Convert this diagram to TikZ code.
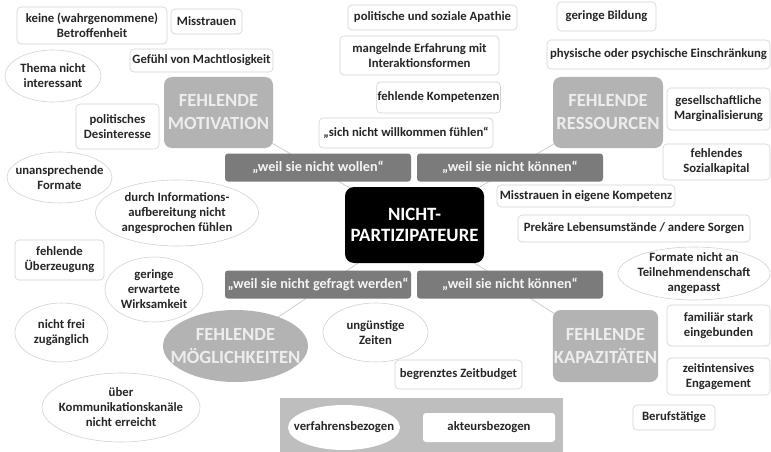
\documentclass[tikz,border=0pt]{standalone}
\usepackage{fontspec}
\setmainfont{Carlito}
\usetikzlibrary{shapes.geometric,backgrounds}
\definecolor{txt}{HTML}{262626}
\definecolor{bord}{HTML}{D2D2D2}
\definecolor{catfill}{HTML}{B3B3B3}
\definecolor{cattxt}{HTML}{EDEDED}
\definecolor{barfill}{HTML}{7B7B7B}
\definecolor{bartxt}{HTML}{F5F5F5}
\definecolor{legfill}{HTML}{BEBEBE}
\definecolor{connc}{HTML}{C8C8C8}
\tikzset{
  wbox/.style={draw=bord, line width=0.6pt, fill=white, rounded corners=4pt, align=center,
    font=\fontsize{12.7}{15}\selectfont\bfseries, text=txt, inner sep=1pt},
  well/.style={ellipse, draw=bord, line width=0.6pt, fill=white, align=center,
    font=\fontsize{12.7}{15}\selectfont\bfseries, text=txt, inner sep=-20pt},
  catbox/.style={fill=catfill, rounded corners=8pt, text=cattxt, align=center,
    font=\fontsize{18.6}{23}\selectfont\bfseries, inner sep=1pt},
  catell/.style={ellipse, fill=catfill, text=cattxt, align=center,
    font=\fontsize{18.6}{23}\selectfont\bfseries, inner sep=-20pt},
  barbox/.style={fill=barfill, rounded corners=3pt, text=bartxt,
    font=\fontsize{14.2}{16}\selectfont\bfseries, minimum width=186, minimum height=28, inner sep=1pt},
  hubbox/.style={fill=black, rounded corners=9pt, text=white, align=center,
    font=\fontsize{18.8}{21.5}\selectfont\bfseries, minimum width=139, minimum height=76, inner sep=1pt},
  conn/.style={draw=connc, line width=0.7pt}
}
\begin{document}
\begin{tikzpicture}[x=1pt,y=-1pt]
\useasboundingbox (0,0) rectangle (771,452);
% legend
\node[fill=legfill, minimum width=283, minimum height=54, inner sep=0pt] (leg) at (421.5,425) {};
\node[ellipse, fill=white, inner sep=-20pt, minimum width=112, minimum height=45,
  font=\fontsize{12.7}{15}\selectfont\bfseries, text=txt] (leg1) at (344,427.5) {verfahrensbezogen};
\node[fill=white, rounded corners=3pt, minimum width=132, minimum height=29, inner sep=1pt,
  font=\fontsize{12.7}{15}\selectfont\bfseries, text=txt] (leg2) at (489,427.5) {akteursbezogen};
% hub
\node[hubbox] (hub) at (414.5,225) {NICHT-\\PARTIZIPATEURE};
% categories
\node[catbox, minimum width=109, minimum height=71] (catM) at (218.5,112.5) {FEHLENDE\\MOTIVATION};
\node[catbox, minimum width=110, minimum height=71] (catR) at (608,112.5) {FEHLENDE\\RESSOURCEN};
\node[catell, minimum width=145, minimum height=72] (catO) at (235.5,346) {FEHLENDE\\MÖGLICHKEITEN};
\node[catbox, minimum width=105, minimum height=72] (catK) at (605.5,346) {FEHLENDE\\KAPAZITÄTEN};
% bars
\node[barbox] (bW) at (318,167.5) {„weil sie nicht wollen“};
\node[barbox] (bK1) at (510,167.5) {„weil sie nicht können“};
\node[barbox] (bG) at (318,284.5) {„weil sie nicht gefragt werden“};
\node[barbox] (bK2) at (510,284.5) {„weil sie nicht können“};
% motivation items
\node[wbox, minimum width=150, minimum height=37] (m1) at (92,25.5) {keine (wahrgenommene)\\Betroffenheit};
\node[wbox, minimum width=71, minimum height=25] (m2) at (206.5,21.5) {Misstrauen};
\node[wbox, minimum width=143, minimum height=23] (m3) at (201.5,60.5) {Gefühl von Machtlosigkeit};
\node[well, minimum width=96, minimum height=52] (m4) at (53,76) {Thema nicht\\interessant};
\node[wbox, minimum width=83, minimum height=45] (m5) at (117.5,126.5) {politisches\\Desinteresse};
\node[well, minimum width=105, minimum height=51] (m6) at (59.5,177.5) {unansprechende\\Formate};
\node[well, minimum width=163, minimum height=66] (m7) at (177,213) {durch Informations-\\aufbereitung nicht\\angesprochen fühlen};
% ressourcen items
\node[wbox, minimum width=169, minimum height=25] (r1) at (432.5,17.5) {politische und soziale Apathie};
\node[wbox, minimum width=159, minimum height=39] (r2) at (419.5,55.5) {mangelnde Erfahrung mit\\Interaktionsformen};
\node[wbox, minimum width=103, minimum height=31] (r3) at (438.5,97.5) {fehlende Kompetenzen};
\node[wbox, minimum width=174, minimum height=30] (r4) at (406,133) {„sich nicht willkommen fühlen“};
\node[wbox, minimum width=99, minimum height=29] (r5) at (606.5,16.5) {geringe Bildung};
\node[wbox, minimum width=223, minimum height=29] (r6) at (658.5,54.5) {physische oder psychische Einschränkung};
\node[wbox, minimum width=103, minimum height=42] (r7) at (718.5,109) {gesellschaftliche\\Marginalisierung};
\node[wbox, minimum width=107, minimum height=36] (r8) at (716.5,162) {fehlendes\\Sozialkapital};
\node[wbox, minimum width=178, minimum height=22] (r9) at (586,196) {Misstrauen in eigene Kompetenz};
\node[wbox, minimum width=232, minimum height=27] (r10) at (634,228.5) {Prekäre Lebensumstände / andere Sorgen};
% möglichkeiten items
\node[wbox, minimum width=89, minimum height=40] (o1) at (59.5,260) {fehlende\\Überzeugung};
\node[well, minimum width=98, minimum height=65] (o2) at (154,289.5) {geringe\\erwartete\\Wirksamkeit};
\node[well, minimum width=93, minimum height=59] (o3) at (61.5,332.5) {nicht frei\\zugänglich};
\node[well, minimum width=158, minimum height=69] (o4) at (121,407.5) {über\\Kommunikationskanäle\\nicht erreicht};
\node[well, minimum width=105, minimum height=59] (o5) at (375.5,332.5) {ungünstige\\Zeiten};
% kapazitäten items
\node[wbox, minimum width=127, minimum height=29] (k1) at (458.5,374.5) {begrenztes Zeitbudget};
\node[well, minimum width=152, minimum height=53] (k2) at (694,273.5) {Formate nicht an\\Teilnehmendenschaft\\angepasst};
\node[wbox, minimum width=103, minimum height=41] (k3) at (718.5,325.5) {familiär stark\\eingebunden};
\node[wbox, minimum width=103, minimum height=37] (k4) at (718.5,376.5) {zeitintensives\\Engagement};
\node[wbox, minimum width=82, minimum height=25] (k5) at (674,417.5) {Berufstätige};
% connectors
\begin{scope}[on background layer]
\draw[conn] (hub.center) -- (catM.center);
\draw[conn] (hub.center) -- (catR.center);
\draw[conn] (hub.center) -- (catO.center);
\draw[conn] (hub.center) -- (catK.center);
\end{scope}
\end{tikzpicture}
\end{document}
